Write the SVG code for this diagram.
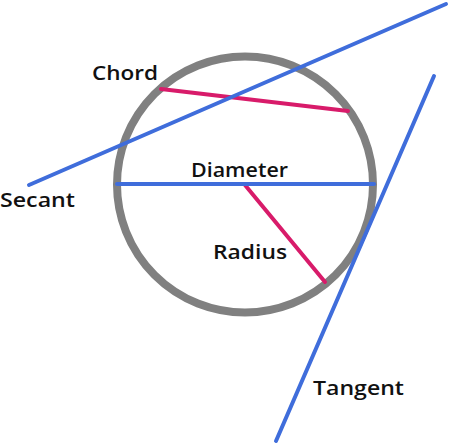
<svg xmlns="http://www.w3.org/2000/svg" width="454" height="444" viewBox="0 0 454 444">
<style>
.blue{stroke:#3f6ddb;stroke-width:4;stroke-linecap:round;fill:none}
.pink{stroke:#d81b6a;stroke-width:4;stroke-linecap:round;fill:none}
.lbl{font-family:"Open Sans","Noto Sans",sans-serif;font-weight:600;font-size:20px;fill:#111}
</style>
<rect width="454" height="444" fill="#ffffff"/>
<g id="circle"><circle cx="245" cy="184.5" r="128" fill="none" stroke="#808080" stroke-width="8"/></g>
<g id="connectors">
<line id="chord" class="pink" x1="161" y1="89" x2="348" y2="111"/>
<line id="radius" class="pink" x1="245" y1="185" x2="325" y2="282"/>
<line id="secant" class="blue" x1="29" y1="185" x2="446" y2="4"/>
<line id="diameter" class="blue" x1="117" y1="184" x2="374" y2="184"/>
<line id="tangent" class="blue" x1="434" y1="76" x2="276" y2="441"/>
</g>
<g id="labels">
<text class="lbl" x="92" y="80" textLength="66" lengthAdjust="spacingAndGlyphs">Chord</text>
<text class="lbl" x="191" y="176.5" textLength="97" lengthAdjust="spacingAndGlyphs">Diameter</text>
<text class="lbl" x="0" y="207" textLength="75" lengthAdjust="spacingAndGlyphs">Secant</text>
<text class="lbl" x="213" y="259" textLength="74" lengthAdjust="spacingAndGlyphs">Radius</text>
<text class="lbl" x="313" y="395" textLength="91" lengthAdjust="spacingAndGlyphs">Tangent</text>
</g>
</svg>
